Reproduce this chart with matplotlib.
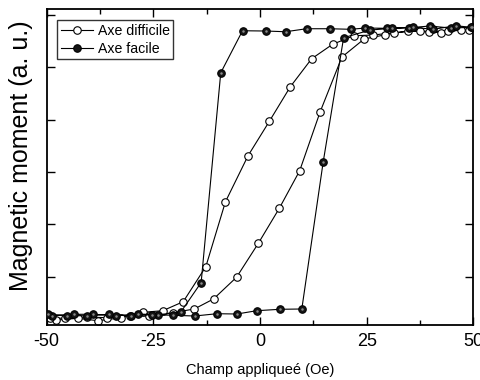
import matplotlib
matplotlib.use("Agg")
import matplotlib.pyplot as plt
from matplotlib.ticker import MultipleLocator, NullFormatter

plt.rcParams['font.family'] = ['Liberation Sans', 'DejaVu Sans']

# Axe difficile (open circles): descending branch then ascending branch
hard_x = [47.0, 42.4, 37.4, 31.3, 26.5, 22.0, 17.0, 12.1, 7.1, 2.2, -2.8, -8.1, -12.7,
          -18.0, -22.8, -27.4, -32.5, -38.0, -42.7, -47.8,
          -49.3, -45.8, -40.5, -35.9, -30.5, -26.0, -20.5, -15.4, -10.9, -5.5, -0.4,
          4.5, 9.3, 14.1, 19.2, 24.4, 29.4, 34.7, 39.5, 44.1, 49.1]
hard_y = [1.000, 0.981, 0.995, 0.981, 0.965, 0.960, 0.900, 0.799, 0.603, 0.362, 0.121,
          -0.201, -0.655, -0.900, -0.963, -0.974, -1.012, -1.033, -1.016, -1.028,
          -1.014, -1.016, -1.007, -1.012, -1.000, -0.998, -0.977, -0.951, -0.881,
          -0.729, -0.492, -0.248, 0.016, 0.428, 0.811, 0.937, 0.967, 0.995, 0.986,
          0.995, 1.000]

# Axe facile (filled circles): descending branch then ascending branch
easy_x = [49.7, 44.7, 39.8, 35.0, 29.8, 24.6, 21.3, 16.4, 10.9, 6.0, 1.4, -4.1, -9.2,
          -13.8, -18.6, -24.0, -28.7, -33.8, -39.1, -43.7, -48.7,
          -49.8, -45.2, -40.6, -35.4, -30.3, -25.4, -20.4, -15.3, -10.1, -5.4, -0.8,
          4.7, 9.8, 14.8, 19.6, 25.8, 31.0, 35.9, 40.6, 45.9, 49.5]
easy_y = [1.019, 1.014, 1.028, 1.016, 1.012, 1.014, 1.005, 1.009, 1.009, 0.988, 0.993,
          0.995, 0.701, -0.766, -0.974, -0.991, -0.986, -0.998, -0.988, -0.988, -0.998,
          -0.988, -0.998, -0.998, -0.988, -1.000, -0.991, -0.995, -1.000, -0.984,
          -0.986, -0.963, -0.953, -0.951, 0.075, 0.946, 1.000, 1.012, 1.019, 1.005,
          1.030, 1.019]

x_ticks = [-50, -25, 0, 25, 50]
y_ticks = [-0.727, -0.360, 0.007, 0.374, 0.741, 1.108]

fig = plt.figure(figsize=(4.81, 3.80), dpi=100)
ax = fig.add_axes([0.0971, 0.1447, 0.8869, 0.8316])

ax.plot(hard_x, hard_y, '-', color='black', lw=0.8, marker='o', ms=5.4,
        mfc='white', mec='black', mew=0.8, label='Axe difficile', zorder=2)
ax.plot(easy_x, easy_y, '-', color='black', lw=0.8, marker='o', ms=5.4,
        mfc='#151515', mec='black', mew=0.8, label='Axe facile', zorder=3)
# highlight on the filled markers
ax.plot(easy_x, easy_y, linestyle='none', marker='o', ms=1.8, mfc='#8a8a8a',
        mec='none', zorder=4, label='_nolegend_')

ax.set_xlim(-50, 50)
ax.set_ylim(-1.063, 1.147)
ax.set_xticks(x_ticks)
ax.set_xticklabels([str(t) for t in x_ticks])
ax.xaxis.set_minor_locator(MultipleLocator(12.5))
ax.set_yticks(y_ticks)
ax.yaxis.set_major_formatter(NullFormatter())
ax.tick_params(which='both', direction='in', top=True, right=True, width=1.0)
ax.tick_params(which='major', length=6, labelsize=13, pad=6)
ax.tick_params(which='minor', length=3.5)
for s in ax.spines.values():
    s.set_linewidth(1.3)

ax.set_xlabel('Champ appliqueé (Oe)', fontsize=10.5, labelpad=9)
ax.set_ylabel('Magnetic moment (a. u.)', fontsize=18)
ax.yaxis.set_label_coords(-0.031, 0.535)

leg = ax.legend(loc='upper left', bbox_to_anchor=(0.025, 0.965), fontsize=10.2,
                frameon=True, fancybox=False, edgecolor='black', handlelength=2.3,
                handletextpad=0.3, borderpad=0.25, labelspacing=0.3,
                borderaxespad=0.0)
leg.get_frame().set_linewidth(1.0)

fig.savefig('out.png', dpi=100)
